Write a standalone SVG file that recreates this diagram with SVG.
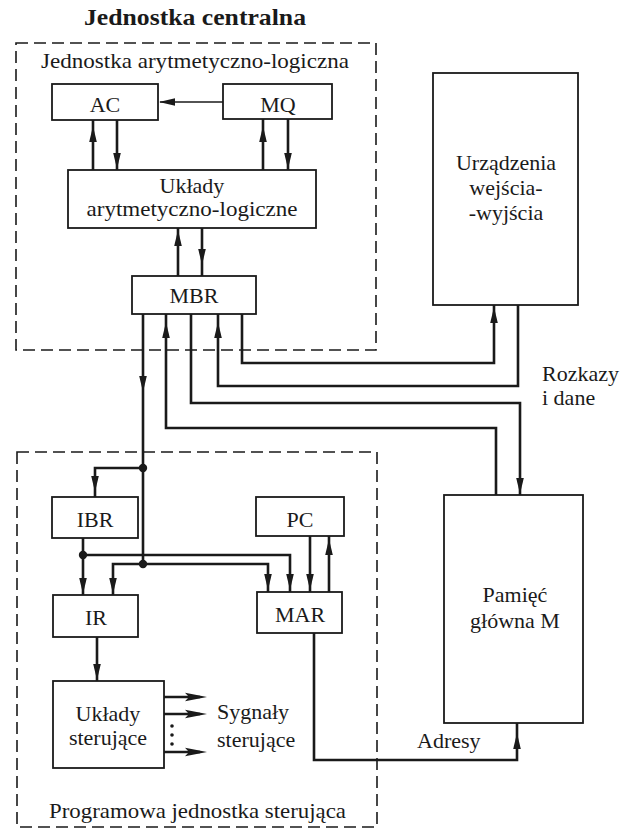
<svg xmlns="http://www.w3.org/2000/svg" xmlns:xlink="http://www.w3.org/1999/xlink" width="625" height="830" viewBox="0 0 625 830">
<style>
  text { font-family: "Liberation Serif", "Times New Roman", serif; font-size: 22px; fill: #1a1a1a; }
  .title { font-weight: bold; font-size: 24px; }
  .c { text-anchor: middle; }
  .box { fill: none; stroke: #1a1a1a; stroke-width: 1.8; }
  .dash { fill: none; stroke: #1a1a1a; stroke-width: 1.6; stroke-dasharray: 12 6; }
  .ln { fill: none; stroke: #1a1a1a; stroke-width: 2.6; }
  .thin { fill: none; stroke: #1a1a1a; stroke-width: 1.3; }
  .ah { fill: #1a1a1a; }
</style>
<defs>
  <path id="ah" class="ah" d="M0,0 L-16,-3.8 L-16,3.8 Z"/>
  <path id="ahl" class="ah" d="M0,0 L-22,-4.2 L-18,0 L-22,4.2 Z"/>
</defs>
<rect width="625" height="830" fill="#ffffff"/>

<text class="title" x="84" y="25" textLength="222" lengthAdjust="spacingAndGlyphs">Jednostka centralna</text>

<g id="alu-unit">
  <rect class="dash" x="16" y="43" width="360" height="307"/>
  <text x="41" y="68" textLength="308" lengthAdjust="spacingAndGlyphs">Jednostka arytmetyczno-logiczna</text>
</g>
<g id="control-unit">
  <rect class="dash" x="17" y="452" width="360" height="375"/>
  <text x="49" y="818" textLength="297" lengthAdjust="spacingAndGlyphs">Programowa jednostka sterująca</text>
</g>

<g id="AC"><rect class="box" x="52" y="84" width="106" height="36"/><text class="c" x="105" y="112">AC</text></g>
<g id="MQ"><rect class="box" x="223" y="84" width="109" height="35"/><text class="c" x="278" y="112">MQ</text></g>
<g id="ALU"><rect class="box" x="68" y="170" width="248" height="58"/>
  <text class="c" x="192" y="193">Układy</text>
  <text class="c" x="192" y="216" textLength="211" lengthAdjust="spacingAndGlyphs">arytmetyczno-logiczne</text></g>
<g id="MBR"><rect class="box" x="132" y="276" width="124" height="38"/><text class="c" x="194" y="303">MBR</text></g>
<g id="IO"><rect class="box" x="433" y="73" width="145" height="232"/>
  <text class="c" x="506" y="170">Urządzenia</text>
  <text class="c" x="506" y="195">wejścia-</text>
  <text class="c" x="506" y="220">-wyjścia</text></g>
<g id="MEM"><rect class="box" x="444" y="495" width="139" height="228"/>
  <text class="c" x="515" y="602">Pamięć</text>
  <text class="c" x="515" y="628">główna M</text></g>
<g id="IBR"><rect class="box" x="52" y="497" width="86" height="41"/><text class="c" x="95" y="527">IBR</text></g>
<g id="PC"><rect class="box" x="256" y="497" width="88" height="39"/><text class="c" x="300" y="527">PC</text></g>
<g id="IR"><rect class="box" x="53" y="595" width="85" height="42"/><text class="c" x="96" y="625">IR</text></g>
<g id="MAR"><rect class="box" x="257" y="592" width="85" height="41"/><text class="c" x="300" y="622">MAR</text></g>
<g id="CTRL"><rect class="box" x="53" y="681" width="111" height="87"/>
  <text class="c" x="108" y="721">Układy</text>
  <text class="c" x="108" y="745">sterujące</text></g>

<g id="labels">
  <text x="542" y="381">Rozkazy</text>
  <text x="542" y="405">i dane</text>
  <text x="217" y="719">Sygnały</text>
  <text x="217" y="747">sterujące</text>
  <text x="417" y="748">Adresy</text>
</g>

<g id="connectors">
  <path class="thin" d="M223,102 H160"/>
  <use xlink:href="#ah" transform="translate(159,102) rotate(180)"/>

  <path class="ln" d="M93,170 V120 M117,120 V170 M263,170 V119 M288,119 V170"/>
  <use xlink:href="#ah" transform="translate(93,126) rotate(-90)"/>
  <use xlink:href="#ah" transform="translate(117,169) rotate(90)"/>
  <use xlink:href="#ah" transform="translate(263,126) rotate(-90)"/>
  <use xlink:href="#ah" transform="translate(288,169) rotate(90)"/>

  <path class="ln" d="M178,276 V228 M202,228 V276"/>
  <use xlink:href="#ah" transform="translate(178,230) rotate(-90)"/>
  <use xlink:href="#ah" transform="translate(202,265) rotate(90)"/>

  <path class="ln" d="M242,314 V363 H494 V305"/>
  <use xlink:href="#ah" transform="translate(494,307) rotate(-90)"/>
  <path class="ln" d="M518,305 V386 H218 V314"/>
  <use xlink:href="#ah" transform="translate(218,322) rotate(-90)"/>
  <path class="ln" d="M191,314 V403 H520 V495"/>
  <use xlink:href="#ah" transform="translate(520,494) rotate(90)"/>
  <path class="ln" d="M496,495 V428 H166 V314"/>
  <use xlink:href="#ah" transform="translate(166,322) rotate(-90)"/>

  <path class="ln" d="M143,314 V564"/>
  <use xlink:href="#ah" transform="translate(143,392) rotate(90)"/>
  <path class="ln" d="M143,468 H95 V497"/>
  <use xlink:href="#ah" transform="translate(95,492) rotate(90)"/>
  <path class="ln" d="M83,538 V595"/>
  <use xlink:href="#ah" transform="translate(83,594) rotate(90)"/>
  <path class="ln" d="M83,555 H290 V592"/>
  <use xlink:href="#ah" transform="translate(290,590) rotate(90)"/>
  <path class="ln" d="M113,595 V564 H268 V592"/>
  <use xlink:href="#ah" transform="translate(113,594) rotate(90)"/>
  <use xlink:href="#ah" transform="translate(268,590) rotate(90)"/>
  <circle cx="143" cy="468" r="4.2" class="ah"/>
  <circle cx="143" cy="564" r="4.2" class="ah"/>
  <circle cx="83" cy="555" r="4.2" class="ah"/>

  <path class="ln" d="M310,536 V592 M329,592 V536"/>
  <use xlink:href="#ah" transform="translate(310,590) rotate(90)"/>
  <use xlink:href="#ah" transform="translate(329,539) rotate(-90)"/>

  <path class="ln" d="M97,637 V681"/>
  <use xlink:href="#ah" transform="translate(97,680) rotate(90)"/>

  <path class="ln" d="M314,633 V760 H517 V723"/>
  <use xlink:href="#ah" transform="translate(517,733) rotate(-90)"/>

  <path class="ln" d="M164,697 H200 M164,714 H200 M164,752 H200"/>
  <use xlink:href="#ahl" transform="translate(207,697)"/>
  <use xlink:href="#ahl" transform="translate(207,714)"/>
  <use xlink:href="#ahl" transform="translate(207,752)"/>
  <circle cx="172" cy="726" r="1.8" class="ah"/>
  <circle cx="172" cy="735" r="1.8" class="ah"/>
  <circle cx="172" cy="744" r="1.8" class="ah"/>
</g>
</svg>
